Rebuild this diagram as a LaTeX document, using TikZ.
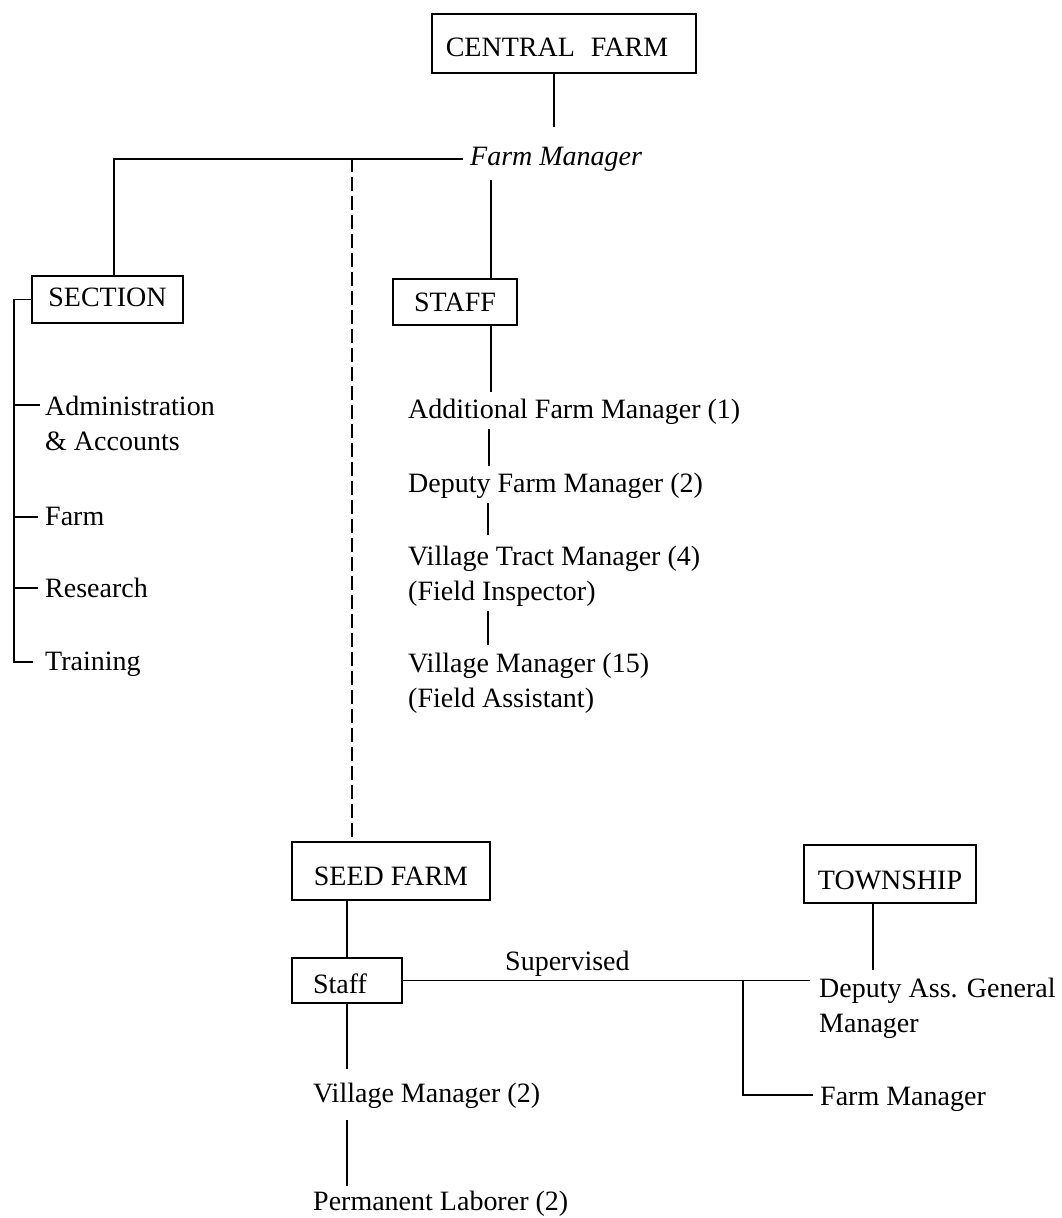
\documentclass[tikz,border=0pt]{standalone}
\usepackage{fontspec}
\setmainfont{Liberation Serif}
\usetikzlibrary{calc}
\begin{document}
\begin{tikzpicture}[x=1pt,y=-1pt,
  every node/.style={font=\fontsize{28}{35}\selectfont},
  ln/.style={line width=1.7pt},
  box/.style={draw, line width=1.8pt, inner sep=0pt, text depth=0pt},
  txt/.style={anchor=base west, inner sep=0pt},
  dashln/.style={line width=1.7pt, dash pattern=on 14pt off 5pt}]
\fill[white] (0,0) rectangle (1062,1218);
\useasboundingbox (0,0) rectangle (1062,1218);

% boxes
\node[box, minimum width=264pt, minimum height=59pt, text height=26.5pt] (cf) at (564,43.5) {CENTRAL\hspace{16pt}FARM\hspace*{14pt}};
\node[box, minimum width=151pt, minimum height=47pt, text height=13.5pt] (sec) at (107.5,299.5) {SECTION};
\node[box, minimum width=124pt, minimum height=46pt, text height=18.5pt] (staffb) at (455,302) {STAFF};
\node[box, minimum width=198pt, minimum height=58pt, text height=28.5pt] (seed) at (391,871) {SEED FARM};
\node[box, minimum width=110pt, minimum height=45pt, text height=25.5pt] (staffs) at (347,980.5) {Staff\hspace*{14pt}};
\node[box, minimum width=172pt, minimum height=58pt, text height=31.5pt] (town) at (890,874) {TOWNSHIP};

% text nodes
\node[txt, font=\fontsize{28}{35}\selectfont\itshape] (fm) at (470,165) {Farm Manager};
\node[txt] (admin) at (45,415) {\begin{tabular}[t]{@{}l@{}}Administration\\\& Accounts\end{tabular}};
\node[txt] (farmS) at (45,525) {Farm};
\node[txt] (research) at (45,597) {Research};
\node[txt] (training) at (45,670) {Training};
\node[txt] (addl) at (408,418) {Additional Farm Manager (1)};
\node[txt] (dep) at (408,492) {Deputy Farm Manager (2)};
\node[txt] (vtm) at (408,565) {\begin{tabular}[t]{@{}l@{}}Village Tract Manager (4)\\(Field Inspector)\end{tabular}};
\node[txt] (vm15) at (408,672) {\begin{tabular}[t]{@{}l@{}}Village Manager (15)\\(Field Assistant)\end{tabular}};
\node[txt] (sup) at (505,970) {Supervised};
\node[txt] (vm2) at (313,1102) {Village Manager (2)};
\node[txt] (pl) at (313,1210) {Permanent Laborer (2)};
\node[txt] (dag) at (819,997) {\begin{tabular}[t]{@{}l@{}}Deputy Ass. General\\Manager\end{tabular}};
\node[txt] (tfm) at (820,1105) {Farm Manager};

% helper coordinates for line positions
\coordinate (c1) at (554,0);
\coordinate (sx) at (491,0);
\coordinate (sx2) at (489,0);
\coordinate (sx3) at (488,0);
\coordinate (dashtop) at (352,158);
\coordinate (tx) at (873,0);
\coordinate (bx) at (743,0);

% connectors
\draw[ln, shorten >=19pt] (cf.south -| c1) -- (fm.north -| c1);
\draw[ln, shorten <=7pt] (fm.west) -| ($(sec.north)+(6.5,0)$);
\draw[dashln] (dashtop) -- (seed.north -| dashtop);
\draw[ln, shorten <=9pt] (fm.south -| sx) -- (staffb.north -| sx);
\draw[ln, shorten >=6pt] (staffb.south -| sx) -- (addl.north -| sx);
\draw[ln, shorten <=5pt, shorten >=6pt] (addl.south -| sx2) -- (dep.north -| sx2);
\draw[ln, shorten <=5pt, shorten >=5pt] (dep.south -| sx3) -- (vtm.north -| sx3);
\draw[ln, shorten >=2pt] (vtm.south -| sx3) -- (vm15.north -| sx3);

% section bracket
\draw[ln] (sec.west) -| ([xshift=-31pt,yshift=8pt]training.base west) -- ([xshift=-12pt,yshift=8pt]training.base west);
\draw[ln] ([xshift=-5pt,yshift=10pt]admin.base west) -- ++(-26,0);
\draw[ln] ([xshift=-7pt,yshift=8pt]farmS.base west) -- ++(-24,0);
\draw[ln] ([xshift=-7pt,yshift=9pt]research.base west) -- ++(-24,0);

% seed farm part
\draw[ln] (seed.south -| staffs.north) -- (staffs.north);
\draw[ln, shorten >=13pt] (staffs.south) -- (vm2.north -| staffs.south);
\draw[ln, shorten <=12pt, shorten >=4pt] (vm2.south -| staffs.south) -- (pl.north -| staffs.south);
\draw[ln, shorten >=9pt] (staffs.east) -- (staffs.east -| dag.west);
\draw[ln, shorten >=2pt] (town.south -| tx) -- (dag.north -| tx);
\draw[ln] (staffs.east -| bx) |- ([xshift=-7pt,yshift=10pt]tfm.base west);
\end{tikzpicture}
\end{document}
